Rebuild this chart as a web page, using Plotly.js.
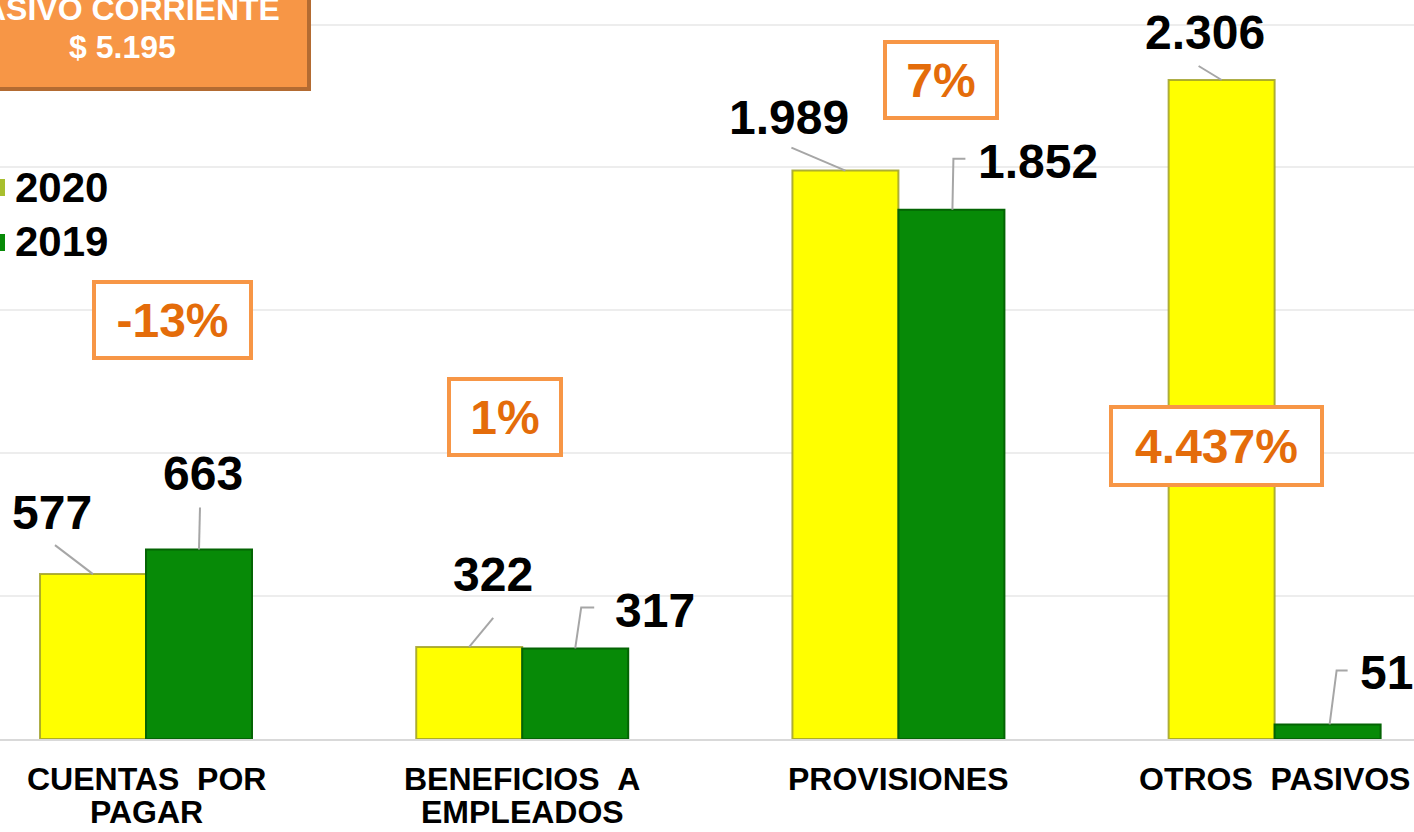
<!DOCTYPE html>
<html>
<head>
<meta charset="utf-8">
<script src="https://cdn.plot.ly/plotly-3.0.1.min.js"></script>
<style>html,body{margin:0;padding:0;background:#fff;}#chart{width:1414px;height:832px;}</style>
</head>
<body>
<div id="chart"></div>
<script>
// ---- data ----
var categories = ['CUENTAS POR PAGAR', 'BENEFICIOS A EMPLEADOS', 'PROVISIONES', 'OTROS PASIVOS'];
var tickLine1 = ['CUENTAS\u00A0\u00A0POR', 'BENEFICIOS\u00A0\u00A0A', 'PROVISIONES', 'OTROS\u00A0\u00A0PASIVOS'];
var tickLine2 = ['PAGAR', 'EMPLEADOS', '', ''];
var seriesNames = ['2020', '2019'];
var values2020 = [577, 322, 1989, 2306];
var values2019 = [663, 317, 1852, 51];
var valueText2020 = ['577', '322', '1.989', '2.306'];
var valueText2019 = ['663', '317', '1.852', '51'];
var variation = ['-13%', '1%', '7%', '4.437%'];
var titleLines = ['PASIVO CORRIENTE', '$ 5.195'];

// ---- layout helpers (pixel positions) ----
var W = 1414, PH = 739;
function px(x) { return x / W; }
function py(y) { return (PH - y) / PH; }
var FONT = 'Liberation Sans, Arial, sans-serif';
var YEL = '#FFFF00', GRN = '#078A07', ORG = '#F79646', ORGTXT = '#E46C0A', LEAD = '#A6A6A6';

// label offsets relative to (category centre, bar top), pixels, y up
var off2020 = [[-94, 62], [-29, 72], [-109, 53], [-70, 48]];
var off2019 = [[57, 76], [133, 38], [140, 48], [112, 52]];
// leader line paths relative to (category centre, bar top), pixels, y up
var lead2020 = [
  [[-53, 0], [-91, 29]],
  [[-53, 0], [-29, 29]],
  [[-53, 0], [-107, 23]],
  [[-53, 0], [-76, 14]]
];
var lead2019 = [
  [[53, 0], [54, 42]],
  [[53, 0], [59, 41], [72, 41]],
  [[54, 0], [55, 51], [67, 51]],
  [[55, 0], [62, 54], [73, 54]]
];
// variation boxes: centre x shift from category centre, centre y pixel, outer w/h
var boxPos = [[26, 320, 161, 80], [-17, 417, 116, 80], [43, 80, 116, 80], [-58, 446, 215, 82]];

var traces = [
  {type: 'bar', name: seriesNames[0], x: categories, y: values2020,
   marker: {color: YEL, line: {color: 'rgba(160,160,40,0.85)', width: 2}}, hoverinfo: 'skip'},
  {type: 'bar', name: seriesNames[1], x: categories, y: values2019,
   marker: {color: GRN, line: {color: '#046404', width: 2}}, hoverinfo: 'skip'}
];

var annotations = [], shapes = [];
function pathStr(pts) {
  return pts.map(function (p, k) { return (k ? 'L' : 'M') + p[0] + ',' + p[1]; }).join(' ');
}
categories.forEach(function (c, i) {
  annotations.push({xref: 'x', yref: 'y', x: c, y: values2020[i], xshift: off2020[i][0], yshift: off2020[i][1],
    text: valueText2020[i], showarrow: false, xanchor: 'center', yanchor: 'middle',
    font: {family: FONT, size: 48, color: '#000', weight: 'bold'}});
  annotations.push({xref: 'x', yref: 'y', x: c, y: values2019[i], xshift: off2019[i][0], yshift: off2019[i][1],
    text: valueText2019[i], showarrow: false, xanchor: 'center', yanchor: 'middle',
    font: {family: FONT, size: 48, color: '#000', weight: 'bold'}});
  shapes.push({type: 'path', xref: 'x', yref: 'y', xsizemode: 'pixel', ysizemode: 'pixel',
    xanchor: c, yanchor: values2020[i], path: pathStr(lead2020[i]), line: {color: LEAD, width: 2}});
  shapes.push({type: 'path', xref: 'x', yref: 'y', xsizemode: 'pixel', ysizemode: 'pixel',
    xanchor: c, yanchor: values2019[i], path: pathStr(lead2019[i]), line: {color: LEAD, width: 2}});
  var b = boxPos[i];
  annotations.push({xref: 'x', yref: 'paper', x: c, xshift: b[0], y: py(b[1]),
    text: variation[i], showarrow: false, xanchor: 'center', yanchor: 'middle',
    width: b[2] - 8, height: b[3] - 8, borderpad: 0, borderwidth: 4, bordercolor: ORG, bgcolor: '#fff',
    font: {family: FONT, size: 48, color: ORGTXT, weight: 'bold'}});
  annotations.push({xref: 'x', yref: 'paper', x: c, y: py(779), text: tickLine1[i], showarrow: false,
    xanchor: 'center', yanchor: 'middle', font: {family: FONT, size: 32, color: '#000', weight: 'bold'}});
  if (tickLine2[i]) {
    annotations.push({xref: 'x', yref: 'paper', x: c, y: py(812), text: tickLine2[i], showarrow: false,
      xanchor: 'center', yanchor: 'middle', font: {family: FONT, size: 32, color: '#000', weight: 'bold'}});
  }
});

// title box
shapes.push({type: 'rect', xref: 'paper', yref: 'paper', x0: px(-70), x1: px(311), y0: py(91), y1: py(-20),
  fillcolor: '#B36B32', line: {width: 0}});
shapes.push({type: 'rect', xref: 'paper', yref: 'paper', x0: px(-70), x1: px(307), y0: py(87), y1: py(-20),
  fillcolor: ORG, line: {width: 0}});
annotations.push({xref: 'paper', yref: 'paper', x: px(122), y: py(9), text: titleLines[0], showarrow: false,
  xanchor: 'center', yanchor: 'middle', font: {family: FONT, size: 32, color: '#fff', weight: 'bold'}});
annotations.push({xref: 'paper', yref: 'paper', x: px(122), y: py(47), text: titleLines[1], showarrow: false,
  xanchor: 'center', yanchor: 'middle', font: {family: FONT, size: 32, color: '#fff', weight: 'bold'}});

// legend (custom)
var legY = [187, 242], legCol = ['#A8BF2E', GRN];
seriesNames.forEach(function (n, k) {
  shapes.push({type: 'rect', xref: 'paper', yref: 'paper', x0: px(-12), x1: px(5), y0: py(legY[k] + 9), y1: py(legY[k] - 8),
    fillcolor: legCol[k], line: {width: 0}});
  annotations.push({xref: 'paper', yref: 'paper', x: px(13), y: py(legY[k]), text: n, showarrow: false,
    xanchor: 'left', yanchor: 'middle', font: {family: FONT, size: 42, color: '#000', weight: 'bold'}});
});

var layout = {
  width: 1414, height: 832,
  margin: {l: 0, r: 0, t: 0, b: 93, pad: 0},
  paper_bgcolor: '#fff', plot_bgcolor: '#fff',
  showlegend: false,
  barmode: 'group', bargap: 0.4365, bargroupgap: 0,
  xaxis: {type: 'category', range: [-0.3881, 3.3705], showticklabels: false, ticks: '',
    showline: true, linecolor: '#D9D9D9', linewidth: 2, showgrid: false, zeroline: false, fixedrange: true},
  yaxis: {range: [0, 2586], dtick: 500, tick0: 0, showgrid: true, gridcolor: '#EDEDED', gridwidth: 2,
    showticklabels: false, ticks: '', zeroline: false, showline: false, fixedrange: true},
  annotations: annotations,
  shapes: shapes
};

Plotly.newPlot('chart', traces, layout, {staticPlot: true, displayModeBar: false});
</script>
</body>
</html>
